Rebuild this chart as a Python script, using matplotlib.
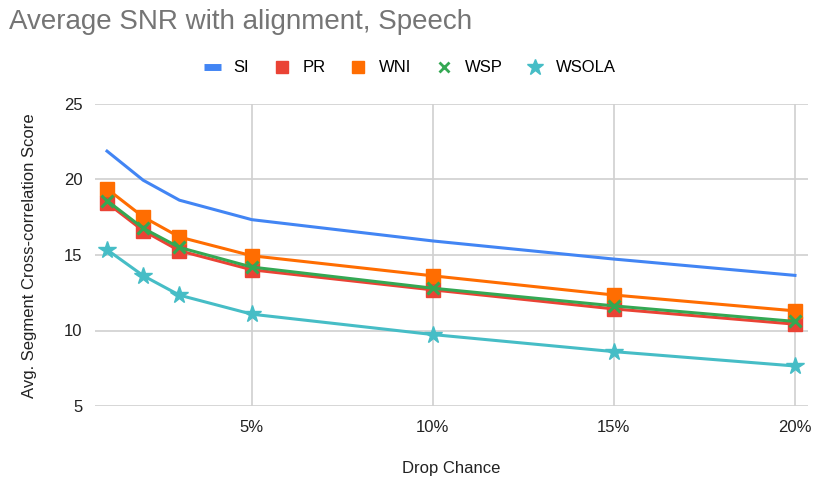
import matplotlib
matplotlib.use("Agg")
import matplotlib.pyplot as plt
from matplotlib.lines import Line2D

plt.rcParams['font.family'] = ['Liberation Sans', 'DejaVu Sans']

drop_chance = [1, 2, 3, 5, 10, 15, 20]
x_ticks = [5, 10, 15, 20]
x_tick_labels = ["5%", "10%", "15%", "20%"]
y_ticks = [5, 10, 15, 20, 25]

si = [21.88, 19.95, 18.63, 17.34, 15.93, 14.73, 13.65]
pr = [18.45, 16.61, 15.28, 14.02, 12.69, 11.43, 10.42]
wni = [19.38, 17.52, 16.19, 14.95, 13.62, 12.35, 11.30]
wsp = [18.60, 16.77, 15.50, 14.20, 12.80, 11.63, 10.60]
wsola = [15.35, 13.63, 12.34, 11.08, 9.73, 8.60, 7.65]

series_names = ["SI", "PR", "WNI", "WSP", "WSOLA"]
colors = {"SI": "#4285F4", "PR": "#EA4335", "WNI": "#FF6D01", "WSP": "#34A853", "WSOLA": "#46BDC6"}

fig = plt.figure(figsize=(8.13, 4.78), dpi=100)
ax = fig.add_axes([95/813, 72/478, (808-95)/813, (406-104)/478])

lw = 2.2
ax.plot(drop_chance, si, color=colors["SI"], lw=lw, zorder=3)
ax.plot(drop_chance, pr, color=colors["PR"], lw=lw, marker='s', ms=9.5, zorder=3)
ax.plot(drop_chance, wni, color=colors["WNI"], lw=lw, marker='s', ms=9.5, zorder=3)
ax.plot(drop_chance, wsp, color=colors["WSP"], lw=lw, marker='x', ms=8, mew=2.2, zorder=4)
ax.plot(drop_chance, wsola, color=colors["WSOLA"], lw=lw, marker='*', ms=13, zorder=4)

ax.set_xlim(0.668, 20.36)
ax.set_ylim(5, 25)
ax.set_xticks(x_ticks)
ax.set_xticklabels(x_tick_labels)
ax.set_yticks(y_ticks)
ax.grid(True, color="#d0d0d0", lw=1.2, zorder=0)
ax.set_axisbelow(True)
for s in ax.spines.values():
    s.set_visible(False)
ax.tick_params(axis='both', length=0, labelsize=12, labelcolor="#222222")
ax.tick_params(axis='x', pad=10)
ax.tick_params(axis='y', pad=9)

fig.text(451/813, 1 - 468/478, "Drop Chance", fontsize=12, color="#222222",
         ha='center', va='center')
fig.text(30/813, 1 - 256/478, "Avg. Segment Cross-correlation Score", fontsize=12,
         color="#222222", ha='center', va='center', rotation=90)

fig.text(9/813, 1 - 22/478, "Average SNR with alignment, Speech", fontsize=20,
         color="#757575", ha='left', va='center')

handles = [
    Line2D([], [], color=colors["SI"], lw=5, solid_capstyle='butt'),
    Line2D([], [], color=colors["PR"], lw=0, marker='s', ms=9),
    Line2D([], [], color=colors["WNI"], lw=0, marker='s', ms=9),
    Line2D([], [], color=colors["WSP"], lw=0, marker='x', ms=7, mew=2),
    Line2D([], [], color=colors["WSOLA"], lw=0, marker='*', ms=12),
]
fig.legend(handles, series_names, loc='center', bbox_to_anchor=(410/813, 1 - 68/478),
           ncol=5, frameon=False, fontsize=12, handlelength=1.0, columnspacing=1.45,
           handletextpad=0.75)

fig.savefig("out.png", dpi=100)
